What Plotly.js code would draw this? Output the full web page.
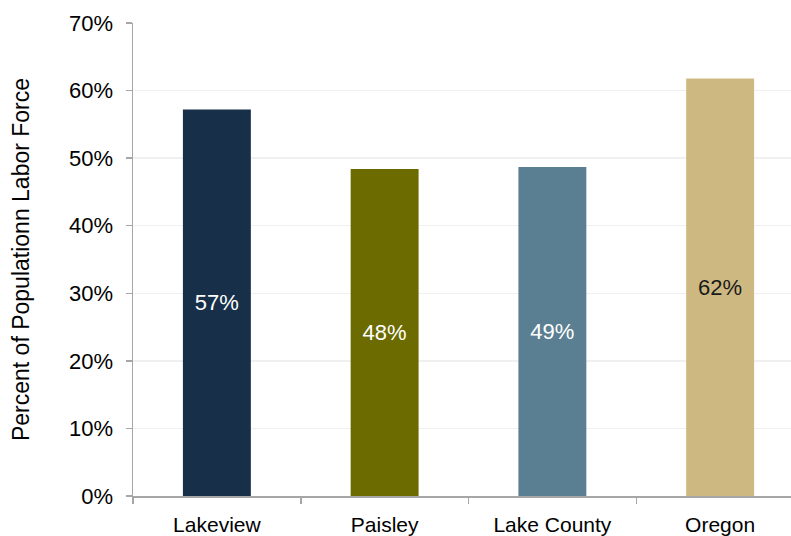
<!DOCTYPE html>
<html>
<head>
<meta charset="utf-8">
<script src="https://cdn.plot.ly/plotly-3.0.1.min.js"></script>
<style>
html,body{margin:0;padding:0;overflow:hidden;background:#fff;width:791px;height:536px;}
#chart{width:810px;height:560px;}
</style>
</head>
<body>
<div id="chart"></div>
<script>
var categories = ["Lakeview", "Paisley", "Lake County", "Oregon"];
var values = [0.572, 0.484, 0.487, 0.618];
var labels = ["57%", "48%", "49%", "62%"];
var barColors = ["#172f48", "#6b6b00", "#5b7f92", "#cdb882"];
var labelColors = ["#ffffff", "#ffffff", "#ffffff", "#1a1a1a"];
var yTickVals = [0, 0.1, 0.2, 0.3, 0.4, 0.5, 0.6, 0.7];
var yTickText = ["0%", "10%", "20%", "30%", "40%", "50%", "60%", "70%"];

var trace = {
  type: "bar",
  x: categories,
  y: values,
  text: labels,
  texttemplate: "%{text}",
  textposition: "inside",
  insidetextanchor: "middle",
  textangle: 0,
  textfont: {family: "Liberation Sans, Arial, sans-serif", size: 22, color: labelColors},
  marker: {color: barColors},
  hoverinfo: "none"
};

var layout = {
  width: 810,
  height: 560,
  margin: {l: 133, r: 6, t: 23, b: 64},
  paper_bgcolor: "#ffffff",
  plot_bgcolor: "#ffffff",
  bargap: 0.595,
  showlegend: false,
  font: {family: "Liberation Sans, Arial, sans-serif", color: "#000000"},
  xaxis: {
    type: "category",
    showline: true,
    linecolor: "#a6a6a6",
    linewidth: 1.5,
    ticks: "outside",
    tickson: "boundaries",
    ticklen: 6,
    tickcolor: "#a6a6a6",
    tickwidth: 1.5,
    tickfont: {size: 21, color: "#000000"},
    ticklabelstandoff: 9,
    showgrid: false,
    zeroline: false
  },
  yaxis: {
    range: [0, 0.7],
    tickvals: yTickVals,
    ticktext: yTickText,
    showline: true,
    linecolor: "#a6a6a6",
    linewidth: 1.5,
    ticks: "outside",
    ticklen: 6,
    tickcolor: "#a6a6a6",
    tickwidth: 1.5,
    tickfont: {size: 22, color: "#000000"},
    ticklabelstandoff: 8,
    showgrid: true,
    gridcolor: "#f0f0f0",
    gridwidth: 1.5,
    zeroline: false,
    title: {text: "Percent of Populationn Labor Force", font: {size: 23, color: "#000000"}, standoff: 33}
  }
};

Plotly.newPlot("chart", [trace], layout, {displayModeBar: false, staticPlot: true});
</script>
</body>
</html>
